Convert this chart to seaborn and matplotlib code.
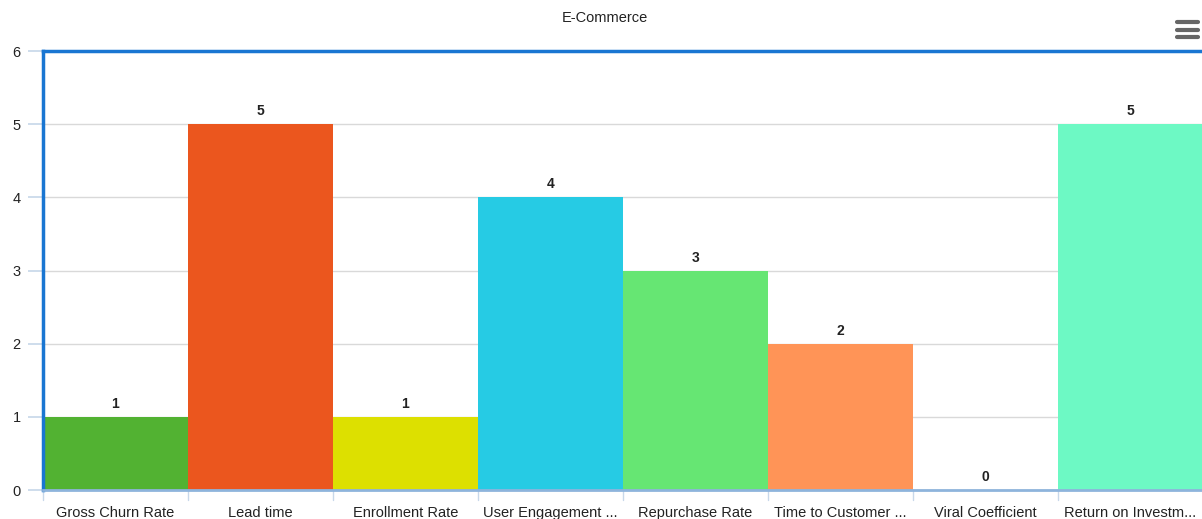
import matplotlib
matplotlib.use("Agg")
import matplotlib.pyplot as plt
from matplotlib.lines import Line2D
import seaborn as sns
import pandas as pd

categories = ["Gross Churn Rate", "Lead time", "Enrollment Rate", "User Engagement ...",
              "Repurchase Rate", "Time to Customer ...", "Viral Coefficient", "Return on Investm..."]
values = [1, 5, 1, 4, 3, 2, 0, 5]
colors = ["#52B232", "#EB561E", "#DDE000", "#26CBE4", "#66E673", "#FF9457", "#4A90D9", "#6DF9C4"]
title = "E-Commerce"

sns.set_theme(style="white")
plt.rcParams['font.family'] = ['Liberation Sans', 'DejaVu Sans']

df = pd.DataFrame({"cat": categories, "val": values})
fig = plt.figure(figsize=(12.02, 5.19), dpi=100)
ax = fig.add_axes([43/1202, 1-490/519, 1160/1202, (490-51)/519])

sns.barplot(data=df, x="cat", y="val", hue="cat", palette=colors, width=1.0,
            legend=False, ax=ax, saturation=1, edgecolor="none", zorder=2)

ax.set_xlim(-0.5, len(categories) - 0.5)
ax.set_ylim(0, 6)
ax.set_yticks(range(0, 7))
ax.yaxis.grid(True, color="#d9d9d9", linewidth=1, zorder=0)
ax.set_axisbelow(True)
ax.set_xlabel("")
ax.set_ylabel("")

for s in ["top", "left"]:
    ax.spines[s].set_visible(True)
    ax.spines[s].set_color("#1976D2")
    ax.spines[s].set_linewidth(2.5)
ax.spines["right"].set_visible(False)
ax.spines["bottom"].set_color("#8EB4DC")
ax.spines["bottom"].set_linewidth(2)
ax.spines["bottom"].set_zorder(5)

ax.tick_params(axis="y", length=11, color="#c8d8ea", labelsize=10.5, pad=5, left=True)
ax.tick_params(axis="x", length=0, labelsize=10.5, pad=11.5)
for lbl in ax.get_yticklabels() + ax.get_xticklabels():
    lbl.set_color("#222222")

# category separators on x axis
for i in range(len(categories) + 1):
    ax.plot([i - 0.5, i - 0.5], [0, -0.14], color="#c8d8ea", lw=1, clip_on=False, zorder=1)

for i, v in enumerate(values):
    ax.text(i, v + 0.08, str(v), ha="center", va="bottom", fontsize=10, fontweight="bold", color="#222222")

fig.text(605/1202, 1-18/519, title, ha="center", va="center", fontsize=10.5, color="#222222")

for yy in [22, 29.5, 37]:
    fig.add_artist(Line2D([1177/1202, 1198/1202], [1-yy/519, 1-yy/519], color="#666666",
                          lw=3, solid_capstyle="round"))

fig.savefig("out.png", dpi=100)
